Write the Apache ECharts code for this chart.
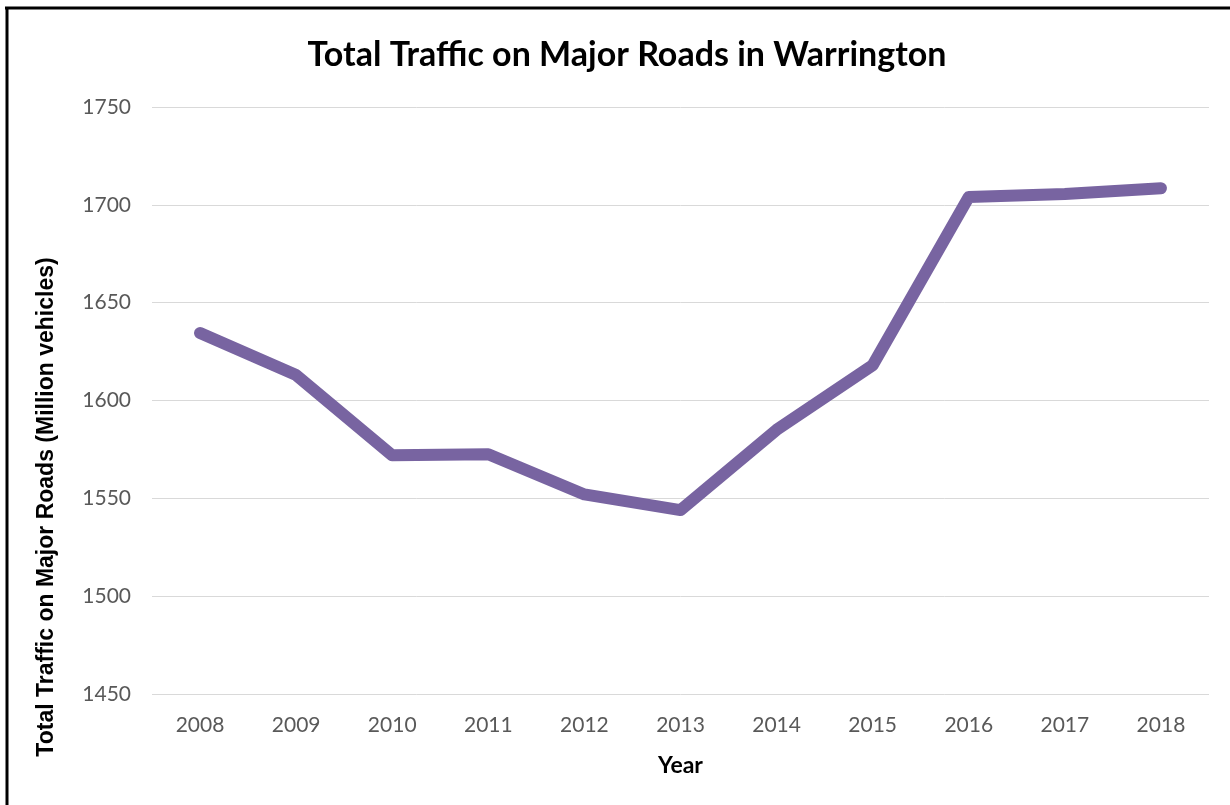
<!DOCTYPE html>
<html>
<head>
<meta charset="utf-8">
<script src="https://cdn.jsdelivr.net/npm/echarts@6/dist/echarts.min.js"></script>
<style>
html,body{margin:0;padding:0;background:#fff;}
#chart{width:1230px;height:805px;}
</style>
</head>
<body>
<div id="chart"></div>
<script>
var years = ['2008','2009','2010','2011','2012','2013','2014','2015','2016','2017','2018'];
var traffic = [1634.5, 1613, 1572, 1572.5, 1552, 1544, 1585, 1618, 1704, 1705.5, 1708.5];
var yTicks = {min: 1450, max: 1750, interval: 50};
var titleText = 'Total Traffic on Major Roads in Warrington';
var yName = 'Total Traffic on Major Roads (Million vehicles)';
var xName = 'Year';

var chart = echarts.init(document.getElementById('chart'), null, {renderer: 'canvas'});
chart.setOption({
  animation: false,
  backgroundColor: '#ffffff',
  title: {
    text: titleText,
    left: 622, top: 33, textAlign: 'center',
    textStyle: {fontFamily: 'Lato', fontWeight: 'bold', fontSize: 34, color: '#000000'}
  },
  grid: {left: 152, right: 21, top: 107, bottom: 111, containLabel: false},
  xAxis: {
    type: 'category',
    data: years,
    boundaryGap: true,
    name: xName,
    nameLocation: 'middle',
    nameGap: 60,
    nameTextStyle: {fontFamily: 'Lato', fontWeight: 'bold', fontSize: 23, color: '#000000'},
    axisLine: {show: false},
    axisTick: {show: false},
    axisLabel: {fontFamily: 'Lato', fontSize: 21, color: '#595959', margin: 21}
  },
  yAxis: {
    type: 'value',
    min: yTicks.min, max: yTicks.max, interval: yTicks.interval,
    axisLine: {show: false},
    axisTick: {show: false},
    axisLabel: {fontFamily: 'Lato', fontSize: 21, color: '#595959', margin: 21,
      formatter: function (v) { return String(v); }},
    splitLine: {lineStyle: {color: '#d9d9d9', width: 1}}
  },
  graphic: [
    {type: 'line', shape: {x1: 5, y1: 8, x2: 1230, y2: 8}, style: {stroke: '#000', lineWidth: 3}},
    {type: 'line', shape: {x1: 7, y1: 7, x2: 7, y2: 805}, style: {stroke: '#000', lineWidth: 3}},
    {type: 'text', x: 47, y: 507, rotation: Math.PI/2,
     style: {text: yName, fontFamily: 'Liberation Sans', fontWeight: 'bold', fontSize: 23, fill: '#000', textAlign: 'center', textVerticalAlign: 'middle'}}
  ],
  series: [{
    type: 'line',
    data: traffic,
    symbol: 'none',
    lineStyle: {color: '#7864a1', width: 12, cap: 'round', join: 'round'},
    itemStyle: {color: '#7864a1'}
  }]
});
</script>
</body>
</html>
